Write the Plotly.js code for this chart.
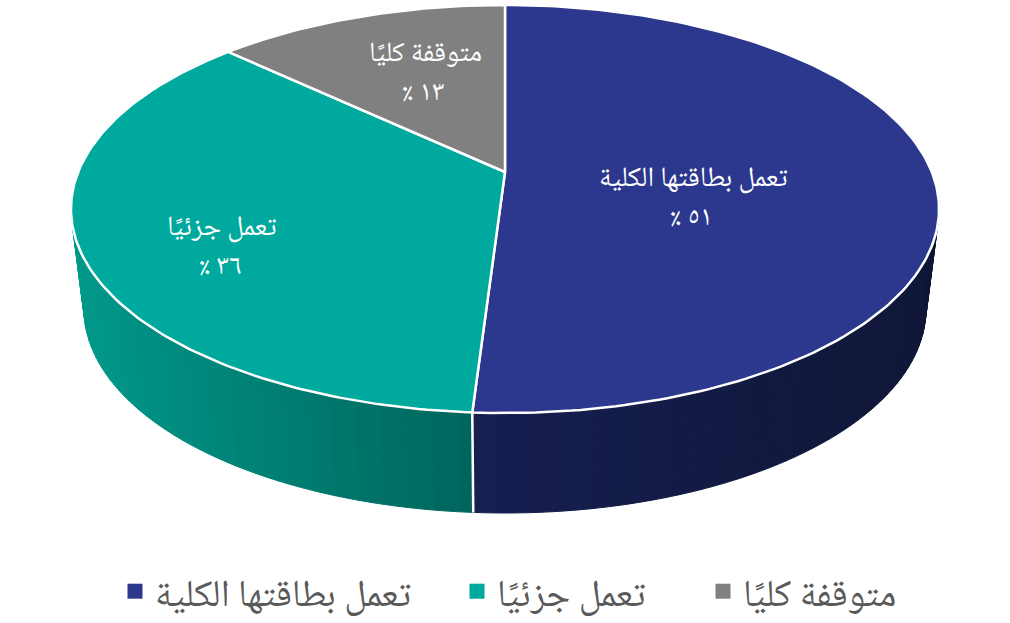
<!DOCTYPE html>
<html><head><meta charset="utf-8">
<script src="https://cdn.plot.ly/plotly-3.0.1.min.js"></script>
<style>html,body{margin:0;padding:0;background:#fff}</style></head>
<body><div id="chart" style="width:1010px;height:623px"></div>
<script>
// Data
const categories = ["تعمل بطاقتها الكلية", "تعمل جزئيًا", "متوقفة كليًا"];
const shares = [51, 36, 13];
const shareLabels = ["\u200f٥١ ٪\u200f", "\u200f٣٦ ٪\u200f", "\u200f١٣ ٪\u200f"];
const colors = ["#2C388D", "#00A99D", "#808080"];

// Look
const FONT = '"Noto Naskh Arabic","Noto Sans Arabic","DejaVu Sans",sans-serif';
const wallFrom = [[23,31,82],[0,152,138]];   // colour at the left of each wall
const wallTo   = [[15,22,54],[0,102,92]];
const cx = 505, cy = 172, p = 0.1814, b = 197.3, a = 426.8, depth = 100, shrink = 0.97;
const labelPos = [[693,180],[221,229],[425,55]];
const pctPos   = [[691,219],[220,268],[423,94]];
const legendX  = [115, 457, 703];

function rim(frac, lower) {
  const t = frac * 2 * Math.PI, u = Math.sin(t), v = Math.cos(t), w = 1 + p * v;
  const x = a * u / w, y = b * v / w;
  return lower ? [cx + x * shrink, cy - y + depth] : [cx + x, cy - y];
}
function lerp(c1, c2, f) {
  return "rgb(" + c1.map((c, i) => Math.round(c + (c2[i] - c) * f)).join(",") + ")";
}

const traces = [];
const total = shares.reduce((s, v) => s + v, 0);
let start = 0;
const spans = shares.map(v => { const r = [start / total, (start + v) / total]; start += v; return r; });

// Side walls: narrow strips so the shade changes across the rim
[0, 1].forEach(i => {
  const [f0, f1] = spans[i];
  const n = Math.ceil((f1 - f0) * 240);
  const xMin = i === 0 ? 472 : 75, xMax = i === 0 ? 940 : 472;
  for (let k = 0; k < n; k++) {
    const g0 = f0 + (f1 - f0) * k / n, g1 = f0 + (f1 - f0) * (k + 1) / n;
    if (Math.cos((g0 + g1) * Math.PI) > 0.12) continue;
    const A = rim(g0), B = rim(g1), C = rim(g1, true), D = rim(g0, true);
    const col = lerp(wallFrom[i], wallTo[i], Math.min(1, Math.max(0, (A[0] - xMin) / (xMax - xMin))));
    traces.push({x:[A[0],B[0],C[0],D[0],A[0]], y:[A[1],B[1],C[1],D[1],A[1]], mode:"lines", fill:"toself",
      fillcolor:col, line:{color:col,width:1}, hoverinfo:"skip", showlegend:false});
  }
});
// White seam on the wall between the two visible slices
const seamTop = rim(spans[0][1]), seamBot = rim(spans[0][1], true);
traces.push({x:[seamTop[0],seamBot[0]], y:[seamTop[1],seamBot[1]], mode:"lines",
  line:{color:"#fff",width:2.5}, hoverinfo:"skip", showlegend:false});

// Top faces
shares.forEach((v, i) => {
  const [f0, f1] = spans[i];
  const n = Math.ceil((f1 - f0) * 360);
  const xs = [cx], ys = [cy];
  for (let k = 0; k <= n; k++) { const q = rim(f0 + (f1 - f0) * k / n); xs.push(q[0]); ys.push(q[1]); }
  xs.push(cx); ys.push(cy);
  traces.push({x:xs, y:ys, mode:"lines", fill:"toself", fillcolor:colors[i],
    line:{color:"#fff",width:2.5}, name:categories[i], hoverinfo:"name", showlegend:false});
});

// Legend keys
const legends = {};
categories.forEach((c, i) => {
  const key = i === 0 ? "legend" : "legend" + (i + 1);
  traces.push({x:[null], y:[null], mode:"markers", name:c, legend:key,
    marker:{symbol:"square", size:15, color:colors[i]}, showlegend:true});
  legends[key] = {x:legendX[i]/1010, xanchor:"left", y:0, yanchor:"bottom", orientation:"h",
    bgcolor:"rgba(0,0,0,0)", itemwidth:30, font:{family:FONT,size:38,color:"#595959"}};
});

const annotations = [];
categories.forEach((c, i) => {
  annotations.push({x:labelPos[i][0], y:labelPos[i][1], text:c, showarrow:false, xanchor:"center", yanchor:"middle",
    font:{family:FONT,size:28,color:"#fff"}});
  annotations.push({x:pctPos[i][0], y:pctPos[i][1], text:shareLabels[i], showarrow:false, xanchor:"center", yanchor:"middle",
    font:{family:FONT,size:28,color:"#fff"}});
});

const layout = Object.assign({
  width:1010, height:623, margin:{l:0,r:0,t:0,b:0}, paper_bgcolor:"#fff", plot_bgcolor:"#fff",
  xaxis:{range:[0,1010],visible:false,fixedrange:true},
  yaxis:{range:[623,0],visible:false,fixedrange:true},
  annotations
}, legends);
Plotly.newPlot("chart", traces, layout, {displayModeBar:false});
</script></body></html>
